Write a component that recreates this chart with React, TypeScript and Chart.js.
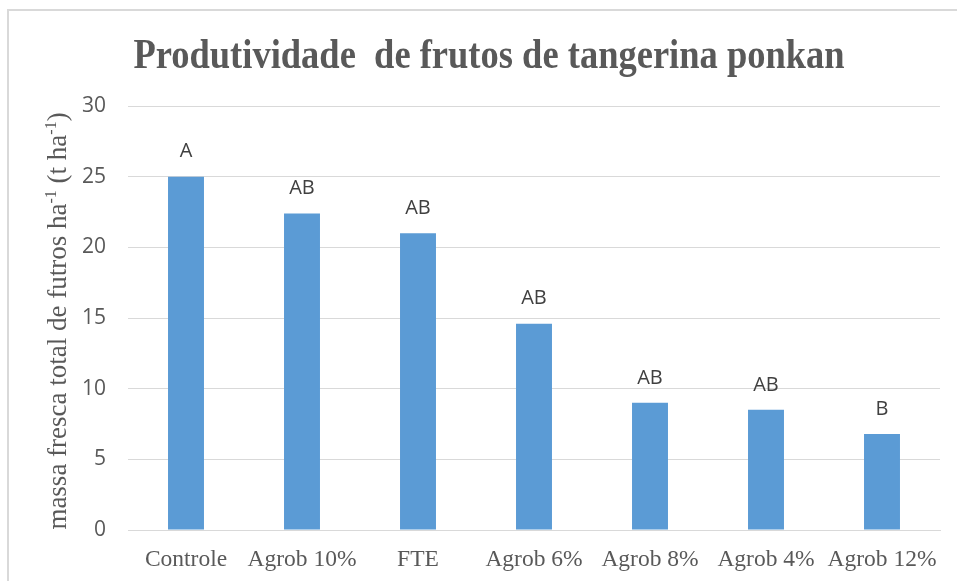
import { useEffect, useRef } from 'react';
import { Chart, registerables } from 'chart.js';

Chart.register(...registerables);

const categories = ['Controle', 'Agrob 10%', 'FTE', 'Agrob 6%', 'Agrob 8%', 'Agrob 4%', 'Agrob 12%'];
const values = [25, 22.4, 21, 14.6, 9.0, 8.5, 6.8];
const letters = ['A', 'AB', 'AB', 'AB', 'AB', 'AB', 'B'];
const titleText = 'Produtividade  de frutos de tangerina ponkan';
const yTitleParts: [string, boolean][] = [
  ['massa fresca total de futros ha', false],
  ['-1', true],
  [' (t ha', false],
  ['-1', true],
  [')', false],
];

const W = 957;
const H = 581;

const framePlugin = {
  id: 'frame',
  beforeDraw(chart: any) {
    const ctx = chart.ctx;
    ctx.save();
    ctx.strokeStyle = '#d9d9d9';
    ctx.lineWidth = 2;
    ctx.beginPath();
    ctx.moveTo(8, H);
    ctx.lineTo(8, 10);
    ctx.lineTo(W, 10);
    ctx.stroke();
    ctx.restore();
  },
};

const titlePlugin = {
  id: 'customTitle',
  afterDraw(chart: any) {
    const ctx = chart.ctx;
    ctx.save();
    ctx.fillStyle = '#595959';
    ctx.font = 'bold 36.5px "Liberation Serif", "Times New Roman", serif';
    ctx.textAlign = 'center';
    ctx.textBaseline = 'alphabetic';
    ctx.translate(489, 68);
    ctx.scale(1, 1.13);
    ctx.fillText(titleText, 0, 0);
    ctx.restore();
  },
};

const yTitlePlugin = {
  id: 'yTitle',
  afterDraw(chart: any) {
    const ctx = chart.ctx;
    const big = '27px "Liberation Serif", "Times New Roman", serif';
    const small = '16px "Liberation Serif", "Times New Roman", serif';
    ctx.save();
    let total = 0;
    for (const [t, sup] of yTitleParts) {
      ctx.font = sup ? small : big;
      total += ctx.measureText(t).width;
    }
    ctx.translate(66, 321);
    ctx.rotate(-Math.PI / 2);
    ctx.fillStyle = '#595959';
    ctx.textAlign = 'left';
    ctx.textBaseline = 'alphabetic';
    let x = -total / 2;
    for (const [t, sup] of yTitleParts) {
      ctx.font = sup ? small : big;
      ctx.fillText(t, x, sup ? -10 : 0);
      x += ctx.measureText(t).width;
    }
    ctx.restore();
  },
};

const lettersPlugin = {
  id: 'letters',
  afterDatasetsDraw(chart: any) {
    const ctx = chart.ctx;
    const meta = chart.getDatasetMeta(0);
    ctx.save();
    ctx.fillStyle = '#404040';
    ctx.font = '20px "Open Sans", "Liberation Sans", sans-serif';
    ctx.textAlign = 'center';
    ctx.textBaseline = 'middle';
    meta.data.forEach((bar: any, i: number) => {
      ctx.fillText(letters[i], bar.x, bar.y - 25);
    });
    ctx.restore();
  },
};

export default function App() {
  const ref = useRef<HTMLCanvasElement>(null);
  useEffect(() => {
    if (!ref.current) return;
    const chart = new Chart(ref.current, {
      type: 'bar',
      data: {
        labels: categories,
        datasets: [
          {
            data: values,
            backgroundColor: '#5b9bd5',
            borderWidth: 0,
            categoryPercentage: 1,
            barPercentage: 0.31,
          },
        ],
      },
      options: {
        animation: false,
        responsive: false,
        devicePixelRatio: 1,
        layout: { padding: { top: 106, right: 17, left: 0, bottom: 0 } },
        plugins: { legend: { display: false }, title: { display: false }, tooltip: { enabled: false } },
        scales: {
          x: {
            afterFit: (s: any) => { s.height = 51; },
            grid: { display: false, drawTicks: false },
            border: { display: true, color: '#d9d9d9', width: 1 },
            ticks: {
              color: '#595959',
              padding: 16,
              maxRotation: 0,
              autoSkip: false,
              font: { family: '"Liberation Serif", "Times New Roman", serif', size: 23.5 },
            },
          },
          y: {
            min: 0,
            max: 30,
            afterFit: (s: any) => { s.width = 128; },
            border: { display: false },
            grid: { color: '#d9d9d9', lineWidth: 1, drawTicks: false },
            ticks: {
              stepSize: 5,
              color: '#595959',
              padding: 22,
              font: { family: '"Open Sans", "Liberation Sans", sans-serif', size: 21 },
            },
          },
        },
      },
      plugins: [framePlugin, titlePlugin, yTitlePlugin, lettersPlugin],
    });
    return () => chart.destroy();
  }, []);
  return (
    <canvas
      ref={ref}
      width={W}
      height={H}
      style={{ position: 'fixed', left: 0, top: 0, width: W, height: H }}
    />
  );
}
